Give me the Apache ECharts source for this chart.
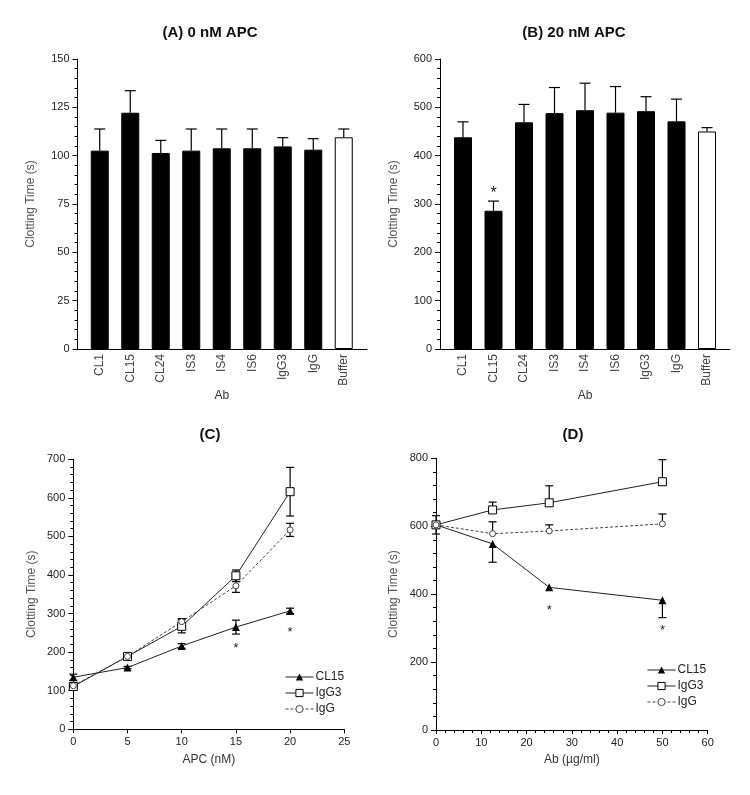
<!DOCTYPE html>
<html>
<head>
<meta charset="utf-8">
<script src="https://cdn.jsdelivr.net/npm/echarts@6/dist/echarts.min.js"></script>
<style>
html,body{margin:0;padding:0;background:#fff;}
#chart{width:750px;height:795px;}
</style>
</head>
<body>
<div id="chart"></div>
<script>
// ---------- DATA ----------
const catsAB = ['CL1','CL15','CL24','IS3','IS4','IS6','IgG3','IgG','Buffer'];
const valsA = [102.6,122.2,101.4,102.6,103.8,103.8,104.8,103.1,109.5];
const errA  = [11.2,11.4,6.5,11.2,10,10,4.5,5.7,4.3];
const valsB = [438,286,469,488,494,489,492,471,450];
const errB  = [32,20,37,53,56,54,30,46,8];
const starB = [['CL15',332]];

const apcC = [0,5,10,15,20];
const cl15C = [135,160,216,265,307];
const cl15CErr = [8,3,6,18,7];
const igg3C = [111,189,267,398,616];
const igg3CErr = [4,5,17,15,63];
const iggC = [113,189,279,372,517];
const iggCErr = [3,4,8,17,17];
const starC = [[15,220],[20,261]];

const abD = [0,12.5,25,50];
const cl15D = [604,548,420,382];
const cl15DErrDown = [27,54,0,51];
const igg3D = [604,648,669,731];
const igg3DErrUp = [27,23,50,65];
const iggD = [604,578,586,607];
const iggDErrUp = [0,35,18,29];
const starD = [[25,365],[50,304]];

// ---------- CHART ----------
const FONT = 'Liberation Sans, Arial, sans-serif';
const chart = echarts.init(document.getElementById('chart'), null, {renderer:'canvas'});

function errRenderer(capW){
  return function(params, api){
    const x = api.value(0), y = api.value(1), lo = api.value(2), hi = api.value(3);
    const top = api.coord([x, y + hi]);
    const bot = api.coord([x, y - lo]);
    const st = {stroke:'#000', lineWidth:1.2};
    const ch = [{type:'line', shape:{x1:top[0],y1:top[1],x2:bot[0],y2:bot[1]}, style:st}];
    if (hi > 0) ch.push({type:'line', shape:{x1:top[0]-capW/2,y1:top[1],x2:top[0]+capW/2,y2:top[1]}, style:st});
    if (lo > 0) ch.push({type:'line', shape:{x1:bot[0]-capW/2,y1:bot[1],x2:bot[0]+capW/2,y2:bot[1]}, style:st});
    return {type:'group', children:ch};
  };
}
function starRenderer(size){
  return function(params, api){
    const p = api.coord([api.value(0), api.value(1)]);
    return {type:'text', x:p[0], y:p[1]+size*0.3, style:{text:'*', fontSize:size, fontFamily:FONT, fill:'#222', align:'center', verticalAlign:'middle'}};
  };
}

const axisLineBlack = {show:true, lineStyle:{color:'#000', width:1}};
function frameX(grid){
  return {gridIndex:grid, type:'value', min:0, max:1, axisLine:axisLineBlack, axisTick:{show:false}, axisLabel:{show:false}, splitLine:{show:false}};
}
function catX(grid, name){
  return {gridIndex:grid, type:'category', data:catsAB, axisLine:{show:false}, axisTick:{show:false},
    axisLabel:{rotate:90, margin:5, fontSize:12, color:'#444', fontFamily:FONT},
    name:name, nameLocation:'middle', nameGap:41, nameTextStyle:{fontSize:12, color:'#333', fontFamily:FONT}};
}
function valY(grid, max, interval, nameGap){
  return {gridIndex:grid, type:'value', min:0, max:max, interval:interval,
    axisLine:axisLineBlack, axisTick:{show:true, length:5, lineStyle:{color:'#000'}},
    minorTick:{show:true, splitNumber:5, length:3, lineStyle:{color:'#000'}},
    splitLine:{show:false}, minorSplitLine:{show:false},
    axisLabel:{fontSize:11, color:'#222', fontFamily:FONT, margin:8},
    name:'Clotting Time (s)', nameLocation:'middle', nameGap:nameGap,
    nameTextStyle:{fontSize:12, color:'#555', fontFamily:FONT}};
}
function hiddenY(grid, max){
  return {gridIndex:grid, type:'value', min:0, max:max, show:false, splitLine:{show:false}};
}

function barData(vals){
  return vals.map((v,i) => ({value:v, itemStyle:{color: catsAB[i]==='Buffer' ? '#fff' : '#000', borderColor:'#000', borderWidth:1}}));
}

const lineBase = {type:'line', z:3, animation:false};
function cl15Series(xi, data){
  return Object.assign({}, lineBase, {name:'CL15', xAxisIndex:xi, yAxisIndex:xi, data:data,
    symbol:'triangle', symbolSize:8, itemStyle:{color:'#000'}, lineStyle:{color:'#222', width:1}});
}
function igg3Series(xi, data){
  return Object.assign({}, lineBase, {name:'IgG3', xAxisIndex:xi, yAxisIndex:xi, data:data,
    symbol:'rect', symbolSize:8, itemStyle:{color:'#fff', borderColor:'#000', borderWidth:1}, lineStyle:{color:'#222', width:1}});
}
function iggSeries(xi, data){
  return Object.assign({}, lineBase, {name:'IgG', xAxisIndex:xi, yAxisIndex:xi, data:data,
    symbol:'circle', symbolSize:6, itemStyle:{color:'#fff', borderColor:'#444', borderWidth:1}, lineStyle:{color:'#444', width:1, type:[3,2]}});
}
function errSeries(xi, data, capW){
  return {type:'custom', xAxisIndex:xi, yAxisIndex:xi, renderItem:errRenderer(capW), data:data, z:2, animation:false, silent:true};
}
function starSeries(xi, data, size){
  return {type:'custom', xAxisIndex:xi, yAxisIndex:xi, renderItem:starRenderer(size), data:data, z:4, animation:false, silent:true};
}

const titleStyle = {fontSize:15, fontWeight:'bold', color:'#111', fontFamily:FONT};
const legendBase = {orient:'vertical', itemWidth:28, itemHeight:9, itemGap:4, padding:0,
  itemStyle:{borderWidth:1},
  lineStyle:{width:1},
  textStyle:{fontSize:12, color:'#222', fontFamily:FONT, padding:[0,0,0,-3]}, data:['CL15','IgG3','IgG']};

const option = {
  animation:false,
  backgroundColor:'#fff',
  title:[
    {text:'(A) 0 nM APC', left:210, top:25, textAlign:'center', padding:0, textStyle:titleStyle},
    {text:'(B) 20 nM APC', left:574, top:25, textAlign:'center', padding:0, textStyle:titleStyle},
    {text:'(C)', left:210, top:427, textAlign:'center', padding:0, textStyle:titleStyle},
    {text:'(D)', left:573, top:427, textAlign:'center', padding:0, textStyle:titleStyle}
  ],
  legend:[
    Object.assign({}, legendBase, {left:285, top:671}),
    Object.assign({}, legendBase, {left:647, top:664})
  ],
  grid:[
    {left:77.5, top:59, width:289.5, height:290},
    {left:84.5, top:59, width:274.5, height:290},
    {left:440, top:59, width:290, height:290},
    {left:447.75, top:59, width:274.5, height:290},
    {left:73.3, top:459.3, width:271, height:270},
    {left:436, top:458.3, width:271.7, height:271.7}
  ],
  xAxis:[
    frameX(0),
    catX(1,'Ab'),
    frameX(2),
    catX(3,'Ab'),
    {gridIndex:4, type:'value', min:0, max:25, interval:5, axisLine:axisLineBlack,
     axisTick:{show:true, length:4, lineStyle:{color:'#000'}}, splitLine:{show:false},
     axisLabel:{fontSize:11, color:'#222', fontFamily:FONT, margin:7},
     name:'APC (nM)', nameLocation:'middle', nameGap:24, nameTextStyle:{fontSize:12, color:'#333', fontFamily:FONT}},
    {gridIndex:5, type:'value', min:0, max:60, interval:10, axisLine:axisLineBlack,
     axisTick:{show:true, length:4, lineStyle:{color:'#000'}},
     minorTick:{show:true, splitNumber:5, length:3, lineStyle:{color:'#000'}},
     splitLine:{show:false}, minorSplitLine:{show:false},
     axisLabel:{fontSize:11, color:'#222', fontFamily:FONT, margin:7},
     name:'Ab (µg/ml)', nameLocation:'middle', nameGap:24, nameTextStyle:{fontSize:12, color:'#333', fontFamily:FONT}}
  ],
  yAxis:[
    valY(0,150,25,40.5),
    hiddenY(1,150),
    valY(2,600,100,40),
    hiddenY(3,600),
    valY(4,700,100,36),
    valY(5,800,200,36)
  ],
  series:[
    {type:'bar', xAxisIndex:1, yAxisIndex:1, barWidth:18, data:barData(valsA), z:2},
    errSeries(1, catsAB.map((c,i)=>[c, valsA[i], 0, errA[i]]), 11),
    {type:'bar', xAxisIndex:3, yAxisIndex:3, barWidth:18, data:barData(valsB), z:2},
    errSeries(3, catsAB.map((c,i)=>[c, valsB[i], 0, errB[i]]), 11),
    starSeries(3, starB, 16),

    errSeries(4, apcC.map((x,i)=>[x, cl15C[i], cl15CErr[i], cl15CErr[i]]), 8),
    errSeries(4, apcC.map((x,i)=>[x, igg3C[i], igg3CErr[i], igg3CErr[i]]), 8),
    errSeries(4, apcC.map((x,i)=>[x, iggC[i], iggCErr[i], iggCErr[i]]), 8),
    cl15Series(4, apcC.map((x,i)=>[x, cl15C[i]])),
    igg3Series(4, apcC.map((x,i)=>[x, igg3C[i]])),
    iggSeries(4, apcC.map((x,i)=>[x, iggC[i]])),
    starSeries(4, starC, 13),

    errSeries(5, abD.map((x,i)=>[x, cl15D[i], cl15DErrDown[i], 0]), 8),
    errSeries(5, abD.map((x,i)=>[x, igg3D[i], 0, igg3DErrUp[i]]), 8),
    errSeries(5, abD.map((x,i)=>[x, iggD[i], 0, iggDErrUp[i]]), 8),
    cl15Series(5, abD.map((x,i)=>[x, cl15D[i]])),
    igg3Series(5, abD.map((x,i)=>[x, igg3D[i]])),
    iggSeries(5, abD.map((x,i)=>[x, iggD[i]])),
    starSeries(5, starD, 13)
  ]
};
chart.setOption(option);
</script>
</body>
</html>
